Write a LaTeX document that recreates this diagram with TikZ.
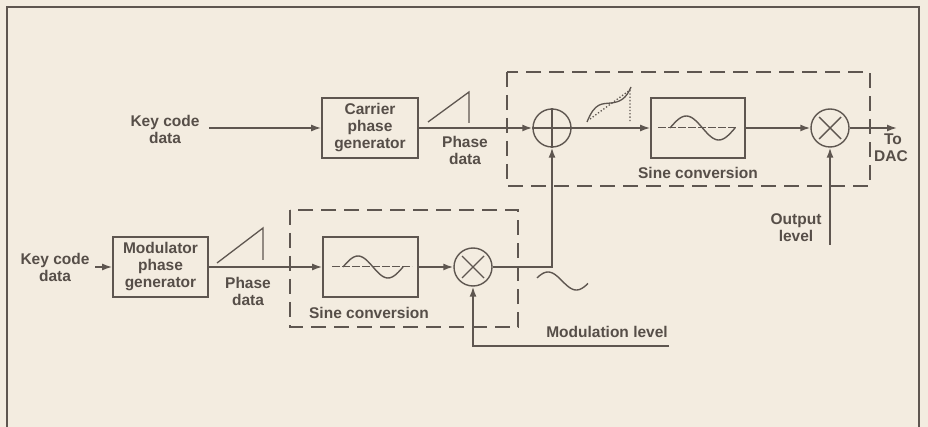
\documentclass[tikz,border=0pt]{standalone}
\usepackage{fontspec}
\setmainfont{Liberation Sans}
\usetikzlibrary{arrows.meta}
\definecolor{bg}{HTML}{F3ECE0}
\definecolor{ink}{HTML}{5E5650}
\definecolor{txt}{HTML}{564E48}
\begin{document}
\begin{tikzpicture}[x=1pt,y=-1pt,
  line width=1.6pt, draw=ink,
  >={Latex[length=10pt,width=7pt]},
  blk/.style={draw=ink, line width=1.6pt, minimum width=95pt, minimum height=60pt, inner sep=0pt, align=center, text=txt, font=\bfseries\fontsize{15.5}{17}\selectfont},
  junc/.style={circle, draw=ink, line width=1.4pt, minimum size=38pt, inner sep=0pt},
  lbl/.style={align=center, text=txt, inner sep=0pt, font=\bfseries\fontsize{15.5}{17}\selectfont},
  grp/.style={draw=ink, line width=1.6pt, dash pattern=on 15pt off 8pt},
  wire/.style={draw=ink, line width=1.6pt}]
\fill[bg] (0,0) rectangle (928,427);
\useasboundingbox (0,0) rectangle (928,427);
% frame
\draw[wire] (7,427) -- (7,7) -- (919,7) -- (919,427);

% dashed groups
\draw[grp] (507,72) rectangle (870,186);
\draw[grp] (290,210) rectangle (518,327);

% nodes top
\node[lbl] (kc1) at (165,129) {Key code\\data};
\node[blk, minimum width=96pt] (carrier) at (370,128) {Carrier\\phase\\generator};
\node[junc] (add) at (552,128) {};
\node[blk, minimum width=94pt] (sine1) at (698,128) {};
\node[junc] (mul1) at (830,128) {};
\coordinate (dac) at (897,128);
\node[lbl] (todac) at (891,148) {\hspace*{4pt}To\\DAC};
\node[lbl] (ph1) at (465,150) {Phase\\data};
\node[lbl] (sc1) at (698,173) {Sine conversion};
\node[lbl] (outlvl) at (796,228) {Output\\level};
\coordinate (olvl) at (830,245);
\coordinate (kc1e) at (209,128);

% nodes bottom
\node[lbl] (kc2) at (55,267) {Key code\\data};
\coordinate (kc2e) at (95,267);
\node[blk] (mod) at (160.5,267) {Modulator\\phase\\generator};
\node[blk] (sine2) at (370.5,267) {};
\node[junc] (mul2) at (473,267) {};
\node[lbl] (ph2) at (248,291) {Phase\\data};
\node[lbl] (sc2) at (369,313) {Sine conversion};
\node[lbl] (modlvl) at (607,332) {Modulation level};
\coordinate (ml) at (669,346);
\coordinate (up) at (552,267);

% junction symbols
\draw[line width=1.4pt] (add.north) -- (add.south) (add.west) -- (add.east);
\draw[line width=1.4pt] ([shift={(-11,-11)}]mul1.center) -- ([shift={(11,11)}]mul1.center)
  ([shift={(11,-11)}]mul1.center) -- ([shift={(-11,11)}]mul1.center);
\draw[line width=1.4pt] ([shift={(-11,-11)}]mul2.center) -- ([shift={(11,11)}]mul2.center)
  ([shift={(11,-11)}]mul2.center) -- ([shift={(-11,11)}]mul2.center);

% connectors top
\draw[wire,->] (kc1e) -- (carrier.west);
\draw[wire,->] (carrier.east) -- (add.west);
\draw[wire,->] (add.east) -- (sine1.west);
\draw[wire,->] (sine1.east) -- (mul1.west);
\draw[wire,->] (mul1.east) -- (dac);
\draw[wire,->] (olvl) -- (mul1.south);

% connectors bottom
\draw[wire,->] (kc2e) -- (mod.west);
\draw[wire,->] (mod.east) -- (sine2.west);
\draw[wire,->] (sine2.east) -- (mul2.west);
\draw[wire,->] (mul2.east) -- (up) -- (add.south);
\draw[wire,->] (ml) -| (mul2.south);

% ramps
\draw[line width=1.3pt] (428,122) -- (469,92) -- (469,123);
\draw[line width=1.3pt] (217,263) -- (263,228) -- (263,260);

% transfer curve
\draw[line width=1.3pt] (587,122) .. controls (595,102) and (602,104) .. (611,103)
  .. controls (620,102) and (626,99) .. (631,87);
\draw[line width=1.3pt, dotted] (590,119) -- (630,90) -- (630,123);

% sine inside box 1
\draw[line width=1pt, dash pattern=on 8pt off 2pt] (658,128) -- (736,128);
\draw[line width=1.4pt, domain=0:1, samples=40, variable=\t]
  plot ({670+65*\t},{128-12*sin(360*\t)});
% sine inside box 2
\draw[line width=1pt, dash pattern=on 8pt off 2pt] (332,267) -- (412,267);
\draw[line width=1.4pt, domain=0:1, samples=40, variable=\t]
  plot ({343+60*\t},{267-11*sin(360*\t)});

% output sine wave
\draw[line width=1.4pt, domain=0:1, samples=40, variable=\t]
  plot ({537+51*\t},{281-9*sin(360*\t*0.9+20)});
\end{tikzpicture}
\end{document}
